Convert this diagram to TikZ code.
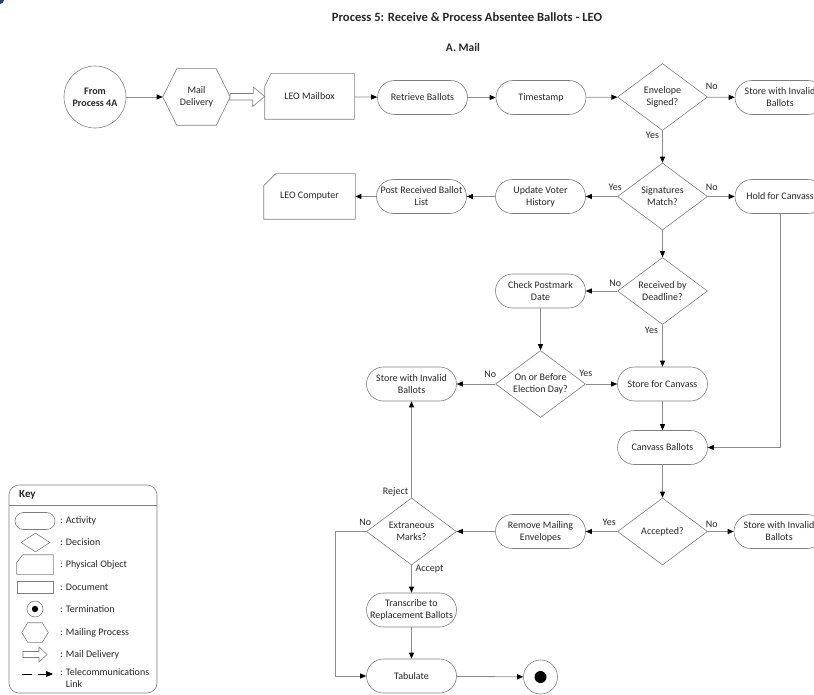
\documentclass[tikz,border=0pt]{standalone}
\usepackage{fontspec}
\setmainfont{Carlito}
\usetikzlibrary{shapes.geometric,arrows.meta,calc}

\definecolor{ln}{HTML}{8C8C8C}
\definecolor{sh}{HTML}{7F7F7F}
\definecolor{tx}{HTML}{262626}
\definecolor{logo}{HTML}{1F3F7A}

\tikzset{
  base/.style={draw=sh, line width=0.6pt, text=tx, font=\fontsize{10}{12}\selectfont, align=center, inner sep=0pt},
  act/.style={base, rectangle, rounded corners=17pt, minimum width=90pt, minimum height=34pt},
  dec/.style={base, diamond, aspect=1.34, minimum width=90pt, minimum height=67pt},
  physbox/.style={base, draw=none, rectangle, minimum width=90pt, minimum height=45pt},
  hexbox/.style={base, draw=none, rectangle, minimum width=67pt, minimum height=56pt},
  shapeline/.style={draw=sh, line width=0.6pt},
  conn/.style={draw=ln, line width=0.8pt, -{Triangle[length=6pt,width=5pt,color=black]}},
  lbl/.style={text=tx, font=\fontsize{10}{12}\selectfont, inner sep=0pt},
  keytext/.style={text=tx, font=\fontsize{10}{12}\selectfont, inner sep=0pt, anchor=west, align=left},
}

\newcommand{\physobj}[3]{\draw[shapeline] (#1.south west) -- ([yshift=-#3]#1.north west) -- ([xshift=#2]#1.north west) -- (#1.north east) -- (#1.south east) -- cycle;}
\newcommand{\hexobj}[2]{\draw[shapeline] (#1.west) -- ([xshift=#2]#1.north west) -- ([xshift=-#2]#1.north east) -- (#1.east) -- ([xshift=-#2]#1.south east) -- ([xshift=#2]#1.south west) -- cycle;}

\begin{document}
\begin{tikzpicture}[x=1pt,y=-1pt]
\useasboundingbox (0,0) rectangle (814,695);
\clip (0,0) rectangle (814,695);
\fill[logo] (0,0) circle (4pt);

% titles
\node[text=tx, font=\bfseries\fontsize{12.6}{15}\selectfont] (title) at (467,17) {Process 5: Receive \& Process Absentee Ballots - LEO};
\node[text=tx, font=\bfseries\fontsize{11.5}{14}\selectfont] (sub) at (463,48) {A. Mail};

% row 1
\node[base, circle, minimum size=62pt, font=\bfseries\fontsize{10}{12}\selectfont] (from) at (95,97) {From\\Process 4A};
\node[hexbox] (mail) at (196.5,97) {Mail\\Delivery};
\hexobj{mail}{14pt}
\node[physbox, minimum width=89pt] (mailbox) at (309.5,96.5) {LEO Mailbox};
\physobj{mailbox}{6pt}{13pt}
\node[act] (retrieve) at (422.5,97.5) {Retrieve Ballots};
\node[act] (timestamp) at (541,97.5) {Timestamp};
\node[dec] (env) at (662.5,97) {Envelope\\Signed?};
\node[act] (inv1) at (780,97.5) {Store with Invalid\\Ballots};

% row 2
\node[physbox, minimum width=91pt] (computer) at (309.5,196.5) {LEO Computer};
\physobj{computer}{12pt}{12pt}
\node[act] (post) at (421.5,196.5) {Post Received Ballot\\List};
\node[act] (update) at (540.5,196.5) {Update Voter\\History};
\node[dec] (sig) at (662.5,196.5) {Signatures\\Match?};
\node[act] (hold) at (780,196.5) {Hold for Canvass};

% row 3
\node[act] (check) at (540.5,291) {Check Postmark\\Date};
\node[dec] (deadline) at (662.5,291) {Received by\\Deadline?};

% row 4
\node[act] (inv2) at (411.5,384) {Store with Invalid\\Ballots};
\node[dec] (ontime) at (540.5,384) {On or Before\\Election Day?};
\node[act] (storec) at (662.5,384) {Store for Canvass};

% row 5
\node[act] (canvass) at (662.5,447.5) {Canvass Ballots};

% row 6
\node[dec] (extr) at (411.5,531.5) {Extraneous\\Marks?};
\node[act] (remove) at (540.5,531.5) {Remove Mailing\\Envelopes};
\node[dec] (accepted) at (662.5,531.5) {Accepted?};
\node[act] (inv3) at (779,531.5) {Store with Invalid\\Ballots};

% rows 7-8
\node[act] (transcribe) at (411.5,610) {Transcribe to\\Replacement Ballots};
\node[act] (tabulate) at (411.5,676) {Tabulate};
\node[base, circle, minimum size=34pt] (end) at (540.5,677) {};
\fill[black] (end.center) circle (6pt);

% connectors
\draw[conn] (from) -- (mail);
\draw[shapeline, fill=white] ([yshift=3.5pt]mail.east) -- ++(23,0) -- ++(0,-6.5) -- (mailbox.west) -- ++(-12,10) -- ++(0,-6.5) -- ++(-23,0) -- cycle;
\draw[conn] (mailbox) -- (retrieve);
\draw[conn] (retrieve) -- (timestamp);
\draw[conn] (timestamp) -- (env);
\draw[conn] (env) -- (inv1);
\path (env.east) ++(4,-11) node[lbl] (l1) {No};
\draw[conn] (env) -- (sig);
\path (env.south) ++(-10,5) node[lbl] (l2) {Yes};
\draw[conn] (sig) -- (update);
\path (sig.west) ++(-2,-9) node[lbl] (l3) {Yes};
\draw[conn] (update) -- (post);
\draw[conn] (post) -- (computer);
\draw[conn] (sig) -- (hold);
\path (sig.east) ++(4,-9) node[lbl] (l4) {No};
\draw[conn] (sig) -- (deadline);
\draw[conn] (deadline) -- (check);
\path (deadline.west) ++(-2,-8) node[lbl] (l5) {No};
\draw[conn] (deadline) -- (storec);
\path (deadline.south) ++(-11,6) node[lbl] (l6) {Yes};
\draw[conn] (check) -- (ontime);
\draw[conn] (ontime) -- (inv2);
\path (ontime.west) ++(-5,-10) node[lbl] (l7) {No};
\draw[conn] (ontime) -- (storec);
\path (ontime.east) ++(0,-11) node[lbl] (l8) {Yes};
\draw[conn] (storec) -- (canvass);
\draw[conn] (hold.south) |- (canvass.east);
\draw[conn] (canvass) -- (accepted);
\draw[conn] (accepted) -- (remove);
\path (accepted.west) ++(-8,-9) node[lbl] (l9) {Yes};
\draw[conn] (accepted) -- (inv3);
\path (accepted.east) ++(4,-7) node[lbl] (l10) {No};
\draw[conn] (remove) -- (extr);
\draw[conn] (extr) -- (inv2);
\path (extr.north) ++(-16,-6) node[lbl] (l11) {Reject};
\draw[conn] (extr.west) -- ++(-31,0) |- (tabulate.west);
\path (extr.west) ++(-1,-9) node[lbl] (l12) {No};
\draw[conn] (extr) -- (transcribe);
\path (extr.south) ++(18,4) node[lbl] (l13) {Accept};
\draw[conn] (transcribe) -- (tabulate);
\draw[conn] (tabulate) -- (end);

% key
\draw[shapeline] (9,485) [rounded corners=10pt] rectangle (157,693);
\draw[shapeline] (9,505) -- (157,505);
\node[text=tx, font=\bfseries\fontsize{11}{13}\selectfont, anchor=west, inner sep=0pt] (keytitle) at (19,495) {Key};

\node[base, rectangle, rounded corners=8.5pt, minimum width=40pt, minimum height=17pt] (kact) at (35,521) {};
\node[keytext] (tact) at (60,521) {: Activity};
\node[base, diamond, minimum width=29pt, minimum height=19pt] (kdec) at (35.5,542.5) {};
\node[keytext] (tdec) at (60,542.5) {: Decision};
\node[physbox, minimum width=36pt, minimum height=19pt] (kphys) at (35,564.5) {};
\physobj{kphys}{6pt}{8pt}
\node[keytext] (tphys) at (60,564.5) {: Physical Object};
\node[base, rectangle, minimum width=36pt, minimum height=12pt] (kdoc) at (35,587.5) {};
\node[keytext] (tdoc) at (60,587.5) {: Document};
\node[base, circle, minimum size=16pt] (kterm) at (35,609) {};
\fill[black] (kterm.center) circle (3.2pt);
\node[keytext] (tterm) at (60,609) {: Termination};
\node[hexbox, minimum width=26pt, minimum height=19pt] (khex) at (35,632.5) {};
\hexobj{khex}{6pt}
\node[keytext] (thex) at (60,632.5) {: Mailing Process};
\coordinate (kma) at (23,654.5);
\coordinate (kmb) at (47,654.5);
\draw[shapeline, fill=white] ([yshift=3pt]kma) -- ++(16,0) -- ++(0,-4.5) -- (kmb) -- ++(-8,7.5) -- ++(0,-4.5) -- ++(-16,0) -- cycle;
\node[keytext] (tmail) at (60,654.5) {: Mail Delivery};
\coordinate (kt1) at (22,674);
\coordinate (kt2) at (32,674);
\coordinate (kt3) at (38,674);
\coordinate (kt4) at (53,674);
\draw[black, line width=0.8pt] (kt1) -- (kt2);
\draw[black, line width=0.8pt, -{Triangle[length=7pt,width=6pt]}] (kt3) -- (kt4);
\node[keytext, anchor=north west] (ttel) at (60,668) {: Telecommunications\\\phantom{: }Link};
\end{tikzpicture}
\end{document}
